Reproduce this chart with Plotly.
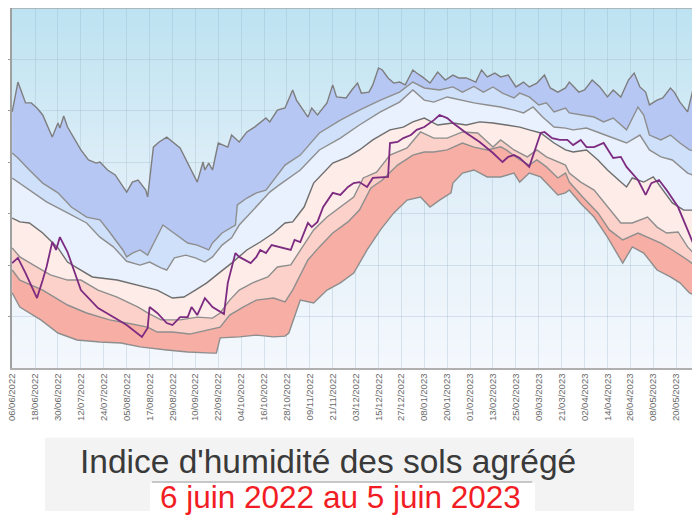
import pandas as pd
import plotly.graph_objects as go

START = "2022-06-06"

# ---- data (day offset from 6 June 2022, soil wetness index) ----
max_days = [0,3,7,10,13,16,21,24,25,27,29,36,40,44,46,50,54,60,63,66,70,71,74,77,81,84,88,97,100,101,
            103,105,108,113,115,119,123,127,133,135,139,143,147,149,153,155,157,160,165,168,170,175,178,181,
            183,187,189,192,194,197,200,203,206,210,212,215,219,223,227,231,234,238,243,246,249,253,256,260,
            264,268,271,275,279,282,286,290,292,297,300,304,308,312,315,319,323,326,329,332,334,338,341,345,
            347,350,354,357,361]
max_vals = [0.996,1.112,1.031,1.031,1.011,0.984,0.898,0.953,0.933,0.980,0.937,0.848,0.809,0.797,0.801,0.770,
            0.751,0.684,0.723,0.731,0.692,0.665,0.859,0.879,0.898,0.879,0.856,0.723,0.801,0.770,0.797,0.770,
            0.875,0.859,0.906,0.879,0.918,0.937,0.972,0.957,1.003,1.011,1.081,1.042,0.996,0.976,1.011,0.984,
            1.031,1.101,1.054,1.050,1.081,1.108,1.069,1.073,1.101,1.167,1.159,1.128,1.108,1.112,1.101,1.159,
            1.147,1.132,1.108,1.151,1.120,1.139,1.128,1.128,1.112,1.159,1.132,1.147,1.132,1.139,1.093,1.112,
            1.093,1.108,1.139,1.089,1.073,1.089,1.112,1.073,1.081,1.120,1.093,1.054,1.081,1.054,1.120,1.147,
            1.093,1.073,1.023,1.042,1.050,1.089,1.073,1.034,0.996,1.089,1.073]

d9_days = [0,3,9,16,24,31,39,46,51,58,60,63,67,71,75,79,84,92,97,103,105,110,117,118,123,128,133,139,143,151,
           161,172,182,193,203,210,216,224,231,236,242,247,252,257,263,266,271,276,280,284,290,292,298,305,
           310,315,322,328,331,334,340,345,350,355,361]
d9_vals = [0.836,0.817,0.770,0.719,0.681,0.626,0.587,0.576,0.529,0.459,0.432,0.447,0.459,0.439,0.498,0.556,
           0.529,0.486,0.478,0.459,0.486,0.525,0.556,0.634,0.661,0.681,0.692,0.751,0.789,0.828,0.914,0.964,
           1.003,1.042,1.073,1.112,1.089,1.081,1.093,1.073,1.095,1.073,1.093,1.069,1.050,1.069,1.054,1.023,
           1.031,0.996,1.011,0.992,0.984,0.976,0.957,0.972,0.926,1.015,0.984,0.906,0.887,0.906,0.875,0.848,0.840]

q8_days = [0,9,18,29,39,46,53,60,67,72,78,81,85,91,96,101,105,110,115,119,125,130,135,140,146,151,161,172,
           182,193,203,210,216,221,228,235,242,249,256,263,268,273,278,284,290,294,301,308,315,322,329,334,
           340,346,354,361]
q8_vals = [0.739,0.692,0.646,0.603,0.564,0.509,0.471,0.415,0.400,0.412,0.389,0.381,0.428,0.439,0.428,0.412,
           0.432,0.478,0.506,0.556,0.603,0.642,0.684,0.712,0.743,0.770,0.848,0.894,0.945,0.996,1.034,1.081,
           1.042,1.034,1.054,1.042,1.031,1.023,1.015,1.003,0.992,1.015,0.976,0.937,0.933,0.926,0.933,0.914,
           0.894,0.875,0.906,0.848,0.821,0.809,0.758,0.739]

med_days = [0,4,9,16,24,29,34,42,55,67,76,84,90,96,102,109,115,123,130,137,143,147,153,158,163,168,176,182,
            189,198,205,210,216,223,231,238,245,252,259,266,271,277,284,290,294,301,307,312,319,322,325,331,
            336,341,346,352,357,361]
med_vals = [0.583,0.568,0.564,0.525,0.467,0.412,0.389,0.354,0.342,0.319,0.303,0.272,0.276,0.303,0.331,0.373,
            0.408,0.459,0.490,0.525,0.564,0.568,0.626,0.719,0.758,0.797,0.821,0.848,0.887,0.926,0.937,0.957,
            0.972,0.945,0.953,0.945,0.957,0.953,0.945,0.937,0.926,0.914,0.875,0.848,0.840,0.848,0.809,0.770,
            0.723,0.704,0.739,0.723,0.743,0.692,0.642,0.614,0.614,0.607]

q2_days = [0,4,11,20,29,36,45,55,66,71,78,88,97,105,109,114,119,126,134,139,146,151,158,165,172,179,184,191,
           198,207,214,221,228,236,244,252,256,263,270,275,280,290,292,298,305,312,319,325,333,338,343,349,
           354,359,361]
q2_vals = [0.467,0.432,0.401,0.362,0.342,0.342,0.303,0.276,0.237,0.214,0.187,0.187,0.198,0.194,0.214,0.264,
           0.303,0.331,0.354,0.393,0.401,0.459,0.537,0.587,0.626,0.665,0.739,0.762,0.828,0.856,0.918,0.894,
           0.894,0.918,0.914,0.859,0.887,0.848,0.821,0.848,0.821,0.789,0.758,0.723,0.692,0.626,0.564,0.564,
           0.587,0.548,0.525,0.529,0.471,0.432,0.420]

d1_days = [0,4,16,29,39,51,60,71,76,84,93,102,109,114,121,128,137,143,147,155,161,168,176,182,188,194,202,
           210,216,221,228,236,242,249,256,259,266,271,275,280,286,290,292,299,307,313,320,328,333,340,346,
           354,361]
d1_vals = [0.381,0.342,0.303,0.245,0.214,0.187,0.175,0.159,0.140,0.140,0.132,0.148,0.159,0.206,0.237,0.264,
           0.272,0.257,0.303,0.420,0.471,0.525,0.568,0.614,0.700,0.731,0.789,0.828,0.840,0.840,0.848,0.875,
           0.859,0.848,0.860,0.848,0.810,0.789,0.809,0.782,0.739,0.758,0.723,0.665,0.603,0.537,0.498,0.525,
           0.509,0.486,0.459,0.420,0.381]

min_days = [0,4,15,24,34,46,57,67,81,92,105,107,109,119,128,137,143,145,151,158,165,172,179,186,193,200,207,
            214,219,224,230,231,236,242,249,256,263,266,271,277,282,286,290,292,298,305,312,320,325,331,338,
            345,350,355,361]
min_vals = [0.292,0.237,0.187,0.136,0.109,0.101,0.097,0.082,0.070,0.062,0.058,0.058,0.117,0.121,0.128,0.121,
            0.124,0.136,0.264,0.253,0.303,0.331,0.369,0.459,0.537,0.603,0.653,0.665,0.626,0.653,0.681,0.719,
            0.758,0.770,0.743,0.743,0.758,0.723,0.758,0.743,0.704,0.673,0.681,0.692,0.640,0.587,0.509,0.408,
            0.471,0.447,0.381,0.354,0.331,0.292,0.272]

cur_days = [0,3,7,13,16,18,21,23,25,29,36,45,53,60,68,71,72,76,81,84,88,92,94,97,101,105,111,113,117,119,
            125,128,130,133,136,140,146,148,151,155,157,160,163,168,172,176,179,182,186,189,197,198,202,205,
            209,212,216,221,224,228,231,238,245,252,257,260,263,266,271,274,277,279,283,287,291,294,298,301,
            305,310,315,319,322,328,332,335,339,343,349,354,359,361]
cur_vals = [0.408,0.428,0.369,0.272,0.342,0.393,0.490,0.459,0.509,0.451,0.303,0.233,0.198,0.167,0.121,0.156,
            0.237,0.214,0.175,0.167,0.198,0.198,0.237,0.206,0.272,0.237,0.210,0.331,0.447,0.432,0.408,0.432,
            0.459,0.447,0.478,0.471,0.459,0.498,0.490,0.564,0.548,0.568,0.626,0.681,0.673,0.704,0.719,0.723,
            0.704,0.739,0.743,0.875,0.879,0.894,0.906,0.926,0.937,0.964,0.984,0.972,0.953,0.914,0.879,0.836,
            0.801,0.821,0.828,0.817,0.782,0.848,0.914,0.918,0.894,0.887,0.887,0.867,0.887,0.859,0.859,0.875,
            0.817,0.821,0.782,0.731,0.673,0.719,0.731,0.692,0.626,0.537,0.447,0.420]

tick_days = list(range(0, 361, 12))
title_text = "Indice d'humidité des sols agrégé"
period_text = "6 juin 2022 au 5 juin 2023"


def to_dates(days):
    return pd.Timestamp(START) + pd.to_timedelta(days, unit="D")


tick_dates = to_dates(tick_days)
tick_labels = [d.strftime("%d/%m/%Y") for d in tick_dates]

fig = go.Figure()

# bands: bottom (min) first, each following line fills down to the previous one
bands = [
    (min_days, min_vals, None, "#8e8e8e"),
    (d1_days, d1_vals, "#f7aea4", "#8e8e8e"),
    (q2_days, q2_vals, "#fbd1c9", "#8e8e8e"),
    (med_days, med_vals, "#fdece8", "#6e6e6e"),
    (q8_days, q8_vals, "#e8f1fd", "#8e8e8e"),
    (d9_days, d9_vals, "#cfe0fa", "#8e8e8e"),
    (max_days, max_vals, "#b6c7f4", "#7e7e7e"),
]
for days, vals, fc, lc in bands:
    fig.add_trace(go.Scatter(
        x=to_dates(days), y=vals, mode="lines",
        line=dict(color=lc, width=1.4),
        fill="tonexty" if fc else None,
        fillcolor=fc, hoverinfo="skip", showlegend=False))

fig.add_trace(go.Scatter(
    x=to_dates(cur_days), y=cur_vals, mode="lines",
    line=dict(color="#7d2b80", width=1.8), showlegend=False))

# background gradient of the plot area
shapes = []
n = 72
top = (188, 226, 241)
mid = (225, 239, 248)
bot = (244, 248, 253)
for i in range(n):
    t = (i + 0.5) / n
    if t < 0.5:
        a, b, f = top, mid, t / 0.5
    else:
        a, b, f = mid, bot, (t - 0.5) / 0.5
    c = tuple(int(round(a[k] + (b[k] - a[k]) * f)) for k in range(3))
    shapes.append(dict(type="rect", xref="paper", yref="paper", x0=0, x1=1,
                       y0=1 - (i + 1) / n, y1=1 - i / n + 0.001,
                       fillcolor="rgb(%d,%d,%d)" % c, line=dict(width=0), layer="below"))
# top border
shapes.append(dict(type="line", xref="paper", yref="paper", x0=0, x1=1, y0=1, y1=1,
                   line=dict(color="#a8a8a8", width=1.5)))
# caption boxes
shapes.append(dict(type="rect", xref="paper", yref="paper", x0=0.048, x1=0.904, y0=-0.397, y1=-0.194,
                   fillcolor="#f3f3f3", line=dict(width=0), layer="above"))
shapes.append(dict(type="rect", xref="paper", yref="paper", x0=0.2006, x1=0.760, y0=-0.43, y1=-0.319,
                   fillcolor="#ffffff", line=dict(width=0), layer="above"))
shapes.append(dict(type="line", xref="paper", yref="paper", x0=0.2035, x1=0.756, y0=-0.3167, y1=-0.3167,
                   line=dict(color="#9a9a9a", width=1)))

# page body has an 8px margin: figure is 692x508, plot area lands on x 12..700, y 8..368
fig.update_layout(
    template="none",
    width=692, height=508,
    margin=dict(l=4, r=0, t=0, b=148),
    paper_bgcolor="white", plot_bgcolor="white",
    showlegend=False,
    shapes=shapes,
    annotations=[
        dict(text=title_text, xref="paper", yref="paper", x=0.459, y=-0.261,
             showarrow=False, xanchor="center", yanchor="middle",
             font=dict(family="Liberation Sans, Arial", size=33.5, color="#3a3a3a")),
        dict(text=period_text, xref="paper", yref="paper", x=0.478, y=-0.358,
             showarrow=False, xanchor="center", yanchor="middle",
             font=dict(family="Liberation Sans, Arial", size=31.5, color="#f21d24")),
    ],
)
fig.update_xaxes(
    type="date", range=[to_dates([-0.1])[0], to_dates([360.5])[0]],
    tickvals=tick_dates, ticktext=tick_labels, tickangle=-90,
    ticklabeloverflow="allow",
    tickfont=dict(family="Liberation Sans, Arial", size=9.5, color="#6a6a6a"),
    showgrid=True, gridcolor="rgba(150,175,195,0.30)", gridwidth=1,
    showline=True, linecolor="#b0b0b0", linewidth=1.5, ticks="",
    zeroline=False, automargin=False,
)
fig.update_yaxes(
    range=[0, 1.4], tickvals=[0.2, 0.4, 0.6, 0.8, 1.0, 1.2], showticklabels=False,
    ticks="outside", ticklen=4, tickcolor="#9a9a9a",
    showgrid=True, gridcolor="rgba(150,175,195,0.30)", gridwidth=1,
    showline=True, linecolor="#a0a0a0", linewidth=1.5,
    zeroline=False, automargin=False,
)

fig.write_html("out.html")
